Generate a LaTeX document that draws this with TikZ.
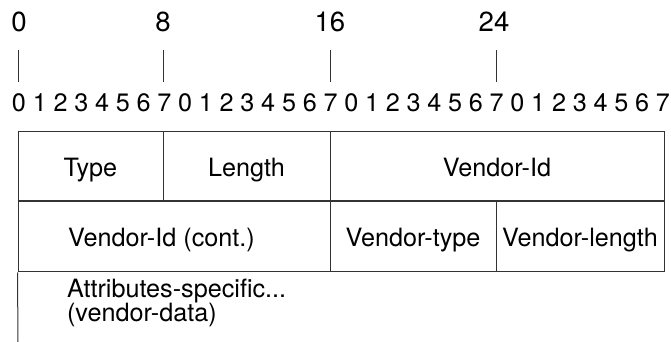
\documentclass[tikz,border=0pt]{standalone}
\usepackage{fontspec}
\setmainfont{TeX Gyre Heros}
\begin{document}
\begin{tikzpicture}[x=0.5pt,y=-0.5pt,
  every node/.style={font=\fontsize{12.6}{12}\selectfont, inner sep=0pt},
  offset/.style={anchor=base, font=\fontsize{13.8}{14}\selectfont},
  field/.style={draw=black!80, line width=0.5pt, minimum height=35pt,
    text height=10pt, text depth=0pt}]
\useasboundingbox (0,0) rectangle (671,342);

% octet offsets
\node[offset] (off0) at (19,31.7) {0};
\node[offset] (off8) at (163,31.7) {8};
\node[offset] (off16) at (330,31.7) {16};
\node[offset] (off24) at (494,31.7) {24};
\foreach \x in {18,163,330,496}
  \draw[black!80, line width=0.5pt] (\x,50) -- (\x,82);

% bit numbers
\foreach \i in {0,...,31} {
  \pgfmathtruncatemacro{\b}{mod(\i,8)}
  \node[anchor=base] (bit\i) at (19+20.77*\i,112) {\b};
}

% first word
\node[field, minimum width=72.5pt] (type) at (90.5,167) {Type};
\node[field, minimum width=83.5pt] (length) at (246.5,167) {Length};
\node[field, minimum width=167pt] (vid) at (497,167) {Vendor-Id};

% second word
\node[field, minimum width=156pt] (vidcont) at (174,237) {};
\node[text height=10pt, text depth=0pt] (vidconttext) at (161.5,237) {Vendor-Id (cont.)};
\node[field, minimum width=83pt] (vtype) at (413,237) {Vendor-type};
\node[field, minimum width=84pt] (vlength) at (580,237) {Vendor-length};
\draw[black!80, line width=1pt] (vidcont.north west) -- (vlength.north east);

% vendor data
\coordinate (vend) at (18,342);
\draw[black!80, line width=0.5pt] (vidcont.south west) -- (vend);
\node[anchor=base west] (vdata) at (66.7,298) {Attributes-specific...};
\node[anchor=base west] (vdatab) at (66.7,322) {(vendor-data)};

\end{tikzpicture}
\end{document}
